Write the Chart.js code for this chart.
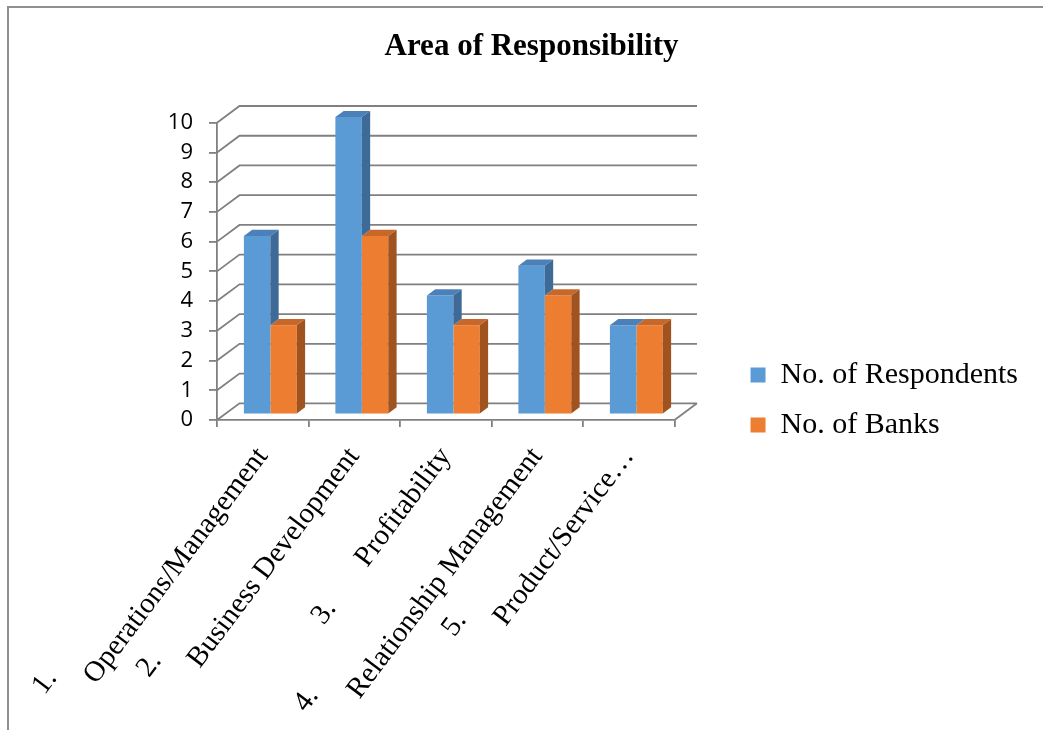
<!DOCTYPE html>
<html>
<head>
<meta charset="utf-8">
<script src="https://cdn.jsdelivr.net/npm/chart.js@4.4.1/dist/chart.umd.min.js"></script>
<style>
  html, body { margin: 0; padding: 0; background: #fff; }
  #wrap { width: 1043px; height: 730px; }
</style>
</head>
<body>
<div id="wrap"><canvas id="areaChart" width="1043" height="730"></canvas></div>
<script>
// data
const categoryNumbers = ['1.', '2.', '3.', '4.', '5.'];
const categoryNames = [
  'Operations/Management',
  'Business Development',
  'Profitability',
  'Relationship Management',
  'Product/Service\u2026'
];
const respondents = [6, 10, 4, 5, 3];
const banks = [3, 6, 3, 4, 3];
const yTickValues = [0, 1, 2, 3, 4, 5, 6, 7, 8, 9, 10];

const GRID = '#808080';
const DEPTH = { x: 22.5, y: -16.7 };   // back wall offset
const BAR_FRONT = 0.337;              // where the bars start in depth
const BAR_DEPTH = 0.37;               // how deep the bars are
const LABEL_FONT = { family: 'Liberation Serif', size: 29 };

// Excel wraps the long labels after the number, with a hanging indent
const measure = document.createElement('canvas').getContext('2d');
measure.font = LABEL_FONT.size + 'px "' + LABEL_FONT.family + '"';
const NBSP = '\u00a0';
function tickLines(i) {
  const num = categoryNumbers[i], name = categoryNames[i];
  const nameW = measure.measureText(name).width;
  if (nameW < 180) return ['', num + NBSP.repeat(7) + name];
  const sp = measure.measureText(NBSP).width;
  const n = Math.max(1, Math.round((nameW + 40 - measure.measureText(num).width) / sp));
  return [num + NBSP.repeat(n), name];
}

// fake 3D: back wall, side wall, floor, bar tops and sides
const room3d = {
  id: 'room3d',
  beforeDraw(chart) {
    const ctx = chart.ctx;
    ctx.save();
    ctx.strokeStyle = '#8f8f8f';
    ctx.lineWidth = 2;
    ctx.beginPath();
    ctx.moveTo(8, 730);
    ctx.lineTo(8, 7);
    ctx.lineTo(1043, 7);
    ctx.stroke();
    ctx.restore();
  },
  beforeDatasetsDraw(chart) {
    const ctx = chart.ctx;
    const a = chart.chartArea;
    const y = chart.scales.y;
    ctx.save();
    ctx.strokeStyle = GRID;
    ctx.lineWidth = 1.8;
    ctx.beginPath();
    y.ticks.forEach(t => {
      const py = y.getPixelForValue(t.value);
      ctx.moveTo(a.left, py);
      ctx.lineTo(a.left + DEPTH.x, py + DEPTH.y);
      ctx.lineTo(a.right + DEPTH.x, py + DEPTH.y);
    });
    ctx.moveTo(a.right, a.bottom);
    ctx.lineTo(a.right + DEPTH.x, a.bottom + DEPTH.y);
    ctx.stroke();
    ctx.restore();
  },
  beforeDatasetDraw(chart) {
    chart.ctx.save();
    chart.ctx.translate(BAR_FRONT * DEPTH.x, BAR_FRONT * DEPTH.y);
  },
  afterDatasetDraw(chart, args) {
    const ctx = chart.ctx;
    const ds = chart.data.datasets[args.index];
    const next = chart.data.datasets[args.index + 1] ? chart.getDatasetMeta(args.index + 1) : null;
    const dx = BAR_DEPTH * DEPTH.x, dy = BAR_DEPTH * DEPTH.y;
    args.meta.data.forEach((bar, i) => {
      const p = bar.getProps(['x', 'y', 'base', 'width'], true);
      const l = p.x - p.width / 2, r = p.x + p.width / 2;
      ctx.fillStyle = ds.topColor;
      ctx.beginPath();
      ctx.moveTo(l, p.y);
      ctx.lineTo(r, p.y);
      ctx.lineTo(r + dx, p.y + dy);
      ctx.lineTo(l + dx, p.y + dy);
      ctx.closePath();
      ctx.fill();
      // the bar standing to the right hides the lower part of this side
      let low = p.base;
      if (next && next.data[i]) low = Math.min(low, next.data[i].getProps(['y'], true).y);
      if (low <= p.y) return;
      ctx.fillStyle = ds.sideColor;
      ctx.beginPath();
      ctx.moveTo(r, p.y);
      ctx.lineTo(r + dx, p.y + dy);
      ctx.lineTo(r + dx, low + dy);
      ctx.lineTo(r, low);
      ctx.closePath();
      ctx.fill();
    });
    ctx.restore();
  }
};

new Chart(document.getElementById('areaChart'), {
  type: 'bar',
  data: {
    labels: categoryNames,
    datasets: [{
      label: 'No. of Respondents',
      data: respondents,
      backgroundColor: '#5B9BD5',
      topColor: '#4C80B9',
      sideColor: '#3D6A96',
      clip: false
    }, {
      label: 'No. of Banks',
      data: banks,
      backgroundColor: '#ED7D31',
      topColor: '#C8672A',
      sideColor: '#A0521F',
      clip: false
    }]
  },
  options: {
    responsive: false,
    animation: false,
    events: [],
    layout: { padding: { left: 35, right: 15, top: 0, bottom: 0 } },
    datasets: {
      bar: { categoryPercentage: 0.578, barPercentage: 1.0, borderWidth: 0 }
    },
    scales: {
      x: {
        grid: { drawOnChartArea: false, drawTicks: true, tickLength: 7, color: GRID, lineWidth: 1.8 },
        border: { color: GRID, width: 1.8 },
        ticks: {
          autoSkip: false,
          maxRotation: 53,
          minRotation: 53,
          padding: -7,
          labelOffset: -28,
          color: '#000',
          font: LABEL_FONT,
          callback: (value, index) => tickLines(index)
        },
        afterFit: s => { s.height = 310; }
      },
      y: {
        min: 0,
        max: 10,
        grid: { drawOnChartArea: false, drawTicks: true, tickLength: 8, color: GRID, lineWidth: 1.8 },
        border: { color: GRID, width: 1.8 },
        afterBuildTicks: s => { s.ticks = yTickValues.map(v => ({ value: v })); },
        ticks: {
          padding: 16,
          color: '#000',
          font: { family: 'Open Sans', size: 22 }
        },
        afterFit: s => { s.width = 182; }
      },
      gap: {
        type: 'linear',
        position: 'right',
        display: true,
        grid: { display: false },
        border: { display: false },
        ticks: { display: false },
        afterFit: s => { s.width = 56; }
      }
    },
    plugins: {
      title: {
        display: true,
        text: 'Area of Responsibility',
        color: '#000',
        font: { family: 'Liberation Serif', size: 31, weight: 'bold' },
        padding: { top: 28.2, bottom: 57.3 }
      },
      legend: {
        position: 'right',
        maxWidth: 330,
        title: { display: true, text: '', font: { size: 12 }, padding: { top: 55.6, bottom: 0 } },
        labels: {
          boxWidth: 15,
          boxHeight: 15,
          padding: 20,
          color: '#000',
          font: { family: 'Liberation Serif', size: 30 },
          sort: (a, b) => a.datasetIndex - b.datasetIndex
        }
      },
      tooltip: { enabled: false }
    }
  },
  plugins: [room3d]
});
</script>
</body>
</html>
